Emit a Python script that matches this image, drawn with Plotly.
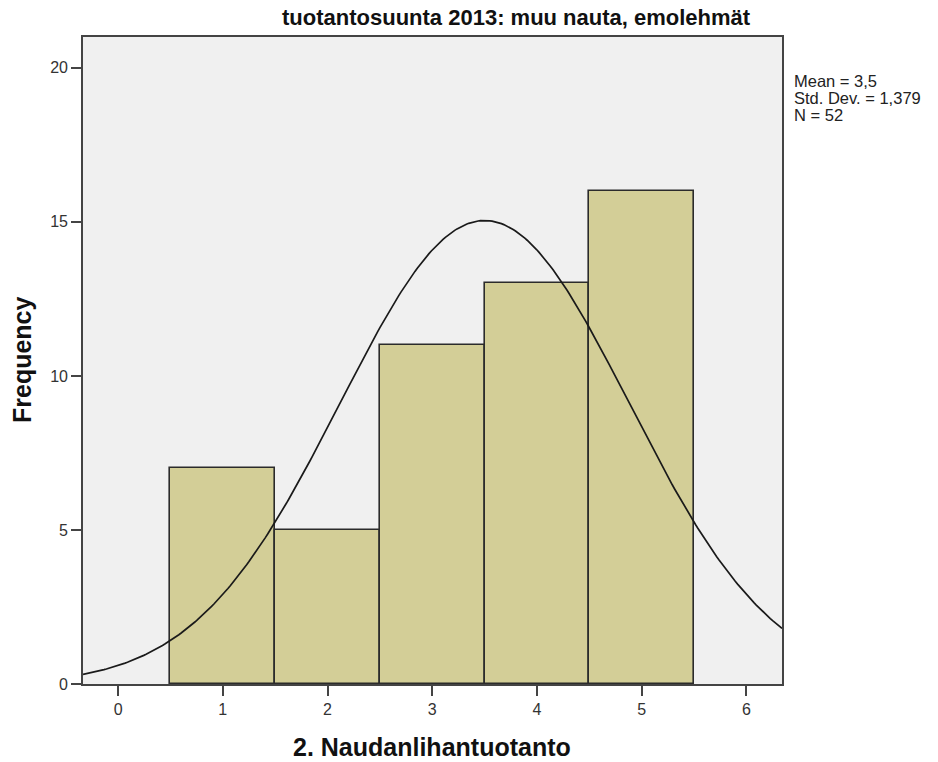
import numpy as np
import plotly.graph_objects as go

values = [1, 2, 3, 4, 5]
frequencies = [7, 5, 11, 13, 16]
mean_val = 3.5
std_val = 1.379
n_val = 52
bin_width = 1.0
x_ticks = [0, 1, 2, 3, 4, 5, 6]
y_ticks = [0, 5, 10, 15, 20]
stats_lines = ["Mean = 3,5", "Std. Dev. = 1,379", "N = 52"]

x_range = [-0.335, 6.34]
curve_x = np.linspace(x_range[0], x_range[1], 300)
curve_y = n_val * bin_width * np.exp(-0.5 * ((curve_x - mean_val) / std_val) ** 2) / (std_val * np.sqrt(2 * np.pi))

font_family = "Liberation Sans, Arial, sans-serif"

fig = go.Figure()
fig.add_trace(go.Bar(
    x=values, y=frequencies, width=bin_width,
    marker=dict(color="#D3CE97", line=dict(color="#2b2b2b", width=1.6)),
    hoverinfo="x+y",
))
fig.add_trace(go.Scatter(
    x=curve_x, y=curve_y, mode="lines",
    line=dict(color="#1a1a1a", width=1.7),
    hoverinfo="skip",
))

fig.update_layout(
    width=938, height=762,
    margin=dict(l=83, r=156, t=37, b=78),
    paper_bgcolor="white",
    plot_bgcolor="#F0F0F0",
    showlegend=False,
    font=dict(family=font_family, color="#222222", size=16),
    bargap=0,
    xaxis=dict(
        range=x_range, tickvals=x_ticks, ticks="outside", ticklen=10, tickwidth=2,
        tickcolor="#444", showgrid=False, zeroline=False,
        showline=True, linecolor="#444", linewidth=1.6, mirror=True,
        tickfont=dict(size=16, color="#333"),
    ),
    yaxis=dict(
        range=[0, 21], tickvals=y_ticks, ticks="outside", ticklen=10, tickwidth=2,
        tickcolor="#444", showgrid=False, zeroline=False,
        showline=True, linecolor="#444", linewidth=1.6, mirror=True,
        tickfont=dict(size=16, color="#333"),
    ),
)

plot_h = 647.0
fig.add_annotation(
    text="<b>tuotantosuunta 2013: muu nauta, emolehmät</b>",
    xref="paper", yref="paper", x=(516.5 - 83) / 699, y=1,
    yshift=20, xanchor="center", yanchor="middle", showarrow=False,
    font=dict(size=22, color="#111"),
)
fig.add_annotation(
    text="<b>2. Naudanlihantuotanto</b>",
    xref="paper", yref="paper", x=(431.5 - 83) / 699, y=0,
    yshift=-63, xanchor="center", yanchor="middle", showarrow=False,
    font=dict(size=25, color="#111"),
)
fig.add_annotation(
    text="<b>Frequency</b>", textangle=-90,
    xref="paper", yref="paper", x=0, xshift=-61, y=(684 - 360) / plot_h,
    xanchor="center", yanchor="middle", showarrow=False,
    font=dict(size=25, color="#111"),
)

for i, line in enumerate(stats_lines):
    fig.add_annotation(
        text=line, xref="paper", yref="paper",
        x=1, xshift=10, y=(684 - (81 + 17 * i)) / plot_h,
        xanchor="left", yanchor="middle", align="left", showarrow=False,
        font=dict(size=16.5, color="#222"),
    )

fig.write_html("out.html", config={"displayModeBar": False},
               post_script="document.body.style.margin='0';")
